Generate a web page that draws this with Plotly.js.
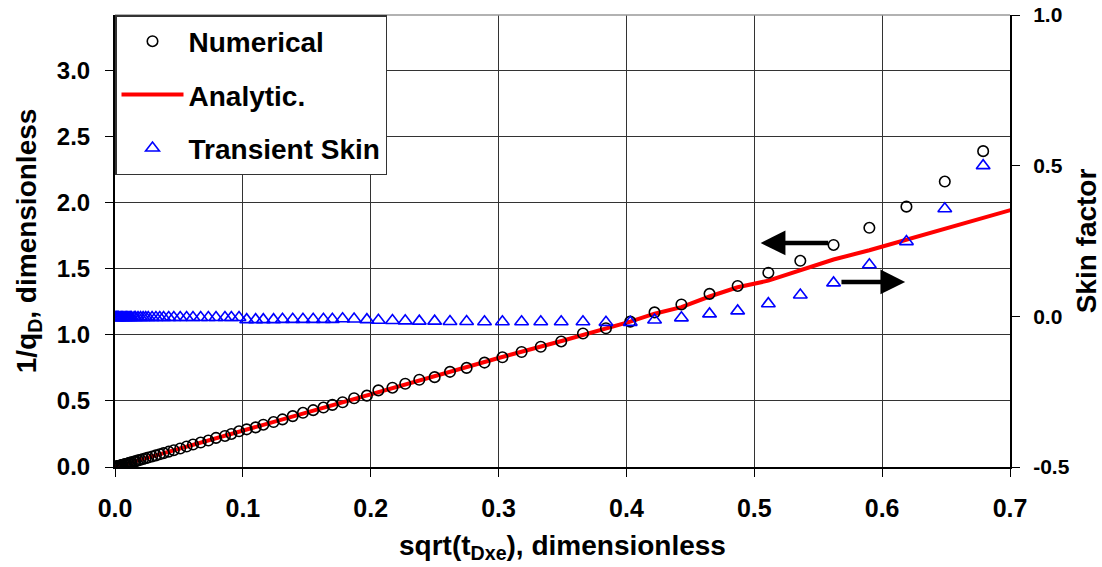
<!DOCTYPE html>
<html>
<head>
<meta charset="utf-8">
<script src="https://cdn.plot.ly/plotly-3.0.1.min.js"></script>
<style>html,body{margin:0;padding:0;background:#fff;}#chart{width:1102px;height:567px;}</style>
</head>
<body>
<div id="chart"></div>
<script>
// sqrt(tDxe) sample positions (shared by Numerical and Transient Skin)
const sqrtT = [0.679,0.649,0.619,0.590,0.562,0.536,0.511,0.487,0.465,0.443,0.422,0.403,0.384,0.366,0.349,0.333,0.318,0.303,0.289,0.275,0.262,0.250,0.238,0.227,0.217,0.206,0.197,0.187,0.178,0.170,0.163,0.155,0.147,0.139,0.131,0.124,0.116,0.110,0.103,0.097,0.091,0.086,0.079,0.073,0.067,0.061,0.056,0.051,0.046,0.042,0.038,0.035,0.032,0.029,0.026,0.024,0.022,0.020,0.018,0.016,0.015,0.013,0.012,0.011,0.010,0.009,0.008,0.007,0.006,0.005,0.004,0.003,0.0025,0.002,0.0015,0.001,0.0005];
// Numerical 1/qD
const numerical = [2.39,2.16,1.97,1.81,1.68,1.56,1.47,1.37,1.31,1.23,1.17,1.10,1.05,1.01,0.95,0.91,0.87,0.83,0.79,0.75,0.72,0.68,0.66,0.63,0.60,0.58,0.54,0.52,0.49,0.47,0.45,0.43,0.41,0.385,0.36,0.34,0.32,0.30,0.285,0.27,0.25,0.235,0.22,0.20,0.185,0.17,0.155,0.14,0.127,0.116,0.105,0.096,0.088,0.080,0.072,0.066,0.060,0.055,0.050,0.044,0.041,0.036,0.033,0.030,0.027,0.025,0.022,0.019,0.016,0.014,0.011,0.008,0.007,0.0055,0.004,0.003,0.0015];
// Transient skin factor (right axis)
const skin = [0.50,0.357,0.248,0.171,0.111,0.071,0.042,0.018,0.008,-0.005,-0.012,-0.02,-0.02,-0.018,-0.018,-0.018,-0.018,-0.018,-0.018,-0.017,-0.017,-0.016,-0.016,-0.015,-0.014,-0.013,-0.011,-0.009,-0.008,-0.01,-0.01,-0.01,-0.01,-0.01,-0.01,-0.011,-0.011,-0.011,-0.011,-0.004,-0.004,-0.004,-0.004,-0.004,-0.004,-0.004,-0.004,-0.004,-0.004,-0.004,-0.004,-0.004,-0.004,-0.004,-0.004,-0.004,-0.004,-0.004,-0.004,-0.004,-0.004,-0.004,-0.004,-0.004,-0.004,-0.004,-0.004,-0.004,-0.004,-0.004,-0.004,-0.004,-0.004,-0.004,-0.004,-0.004,-0.004];
// Analytic solution
const analyticX = [0,0.05,0.1,0.15,0.2,0.25,0.3,0.35,0.403,0.422,0.443,0.465,0.487,0.511,0.536,0.562,0.590,0.619,0.649,0.679,0.71];
const analyticY = [0,0.138,0.275,0.413,0.55,0.685,0.825,0.955,1.10,1.16,1.21,1.29,1.36,1.41,1.49,1.57,1.64,1.72,1.80,1.88,1.97];
// Right-axis tick values and labels
const skinTicks = [-0.5, 0.0, 0.5, 1.0];
const skinTickLabels = ['-0.5', '0.0', '0.5', '1.0'];
// Arrow annotations: [headX, tailX, y(left axis)]
const arrowLeft = [0.505, 0.559, 1.695];
const arrowRight = [0.618, 0.567, 1.40];

const FONT = 'Liberation Sans, Arial, sans-serif';
const traces = [
  {x: analyticX, y: analyticY, mode: 'lines', name: 'Analytic.', legendrank: 2, legendgroup: 'b',
   line: {color: '#FF0000', width: 4}},
  {x: sqrtT, y: numerical, mode: 'markers', name: 'Numerical', legendrank: 1, legendgroup: 'a',
   marker: {symbol: 'circle-open', size: 10.5, color: '#000', line: {width: 1.6, color: '#000'}}},
  {x: sqrtT, y: skin, yaxis: 'y2', mode: 'markers', name: 'Transient Skin', legendrank: 3, legendgroup: 'c',
   marker: {symbol: 'triangle-up-open', size: 12, color: '#0000FF', line: {width: 1.6, color: '#0000FF'}}}
];

const layout = {
  width: 1102, height: 567,
  margin: {l: 115, r: 92, t: 15, b: 100},
  paper_bgcolor: '#fff', plot_bgcolor: '#fff',
  font: {family: FONT, color: '#000'},
  showlegend: true,
  legend: {x: 0, y: 1, xanchor: 'left', yanchor: 'top', bgcolor: '#fff', bordercolor: '#333', borderwidth: 1.5,
           font: {size: 28, family: FONT, weight: 'bold'}, tracegroupgap: 14, itemwidth: 62, traceorder: 'grouped'},
  xaxis: {range: [0, 0.7], dtick: 0.1, tick0: 0, tickformat: '.1f', showline: true, linecolor: '#000', linewidth: 2,
          ticks: 'outside', ticklen: 8, tickcolor: '#000', showgrid: true, gridcolor: '#333', gridwidth: 1, zeroline: false,
          tickfont: {size: 25, family: FONT, weight: 'bold'}, ticklabelstandoff: 10,
          title: {text: 'sqrt(t<sub>Dxe</sub>), dimensionless', font: {size: 28, family: FONT, weight: 'bold'}, standoff: 14}},
  yaxis: {range: [0, 3.42], dtick: 0.5, tick0: 0, tickformat: '.1f', showline: true, linecolor: '#000', linewidth: 2,
          ticks: 'outside', ticklen: 8, tickcolor: '#000', showgrid: true, gridcolor: '#333', gridwidth: 1, zeroline: false,
          tickfont: {size: 24, family: FONT, weight: 'bold'}, ticklabelstandoff: 10,
          title: {text: '1/q<sub>D</sub>, dimensionless', font: {size: 28, family: FONT, weight: 'bold'}, standoff: 12}},
  yaxis2: {range: [-0.5, 1.0], tickmode: 'array', tickvals: skinTicks, ticktext: skinTickLabels, overlaying: 'y', side: 'right',
           showline: true, linecolor: '#000', linewidth: 2, ticks: 'outside', ticklen: 8, tickcolor: '#000',
           showgrid: false, zeroline: false, tickfont: {size: 21, family: FONT, weight: 'bold'}, ticklabelstandoff: 9,
           title: {text: 'Skin factor', font: {size: 28, family: FONT, weight: 'bold'}, standoff: 8}},
  shapes: [{type: 'line', xref: 'paper', yref: 'paper', x0: 0, x1: 1, y0: 1, y1: 1, line: {color: '#999', width: 1.5}}],
  annotations: [
    {x: arrowLeft[0], y: arrowLeft[2], ax: arrowLeft[1], ay: arrowLeft[2], xref: 'x', yref: 'y', axref: 'x', ayref: 'y',
     text: '', showarrow: true, arrowhead: 2, arrowsize: 1.1, arrowwidth: 4.5, arrowcolor: '#000'},
    {x: arrowRight[0], y: arrowRight[2], ax: arrowRight[1], ay: arrowRight[2], xref: 'x', yref: 'y', axref: 'x', ayref: 'y',
     text: '', showarrow: true, arrowhead: 2, arrowsize: 1.1, arrowwidth: 4.5, arrowcolor: '#000'}
  ]
};

Plotly.newPlot('chart', traces, layout, {displayModeBar: false, staticPlot: true});
</script>
</body>
</html>
